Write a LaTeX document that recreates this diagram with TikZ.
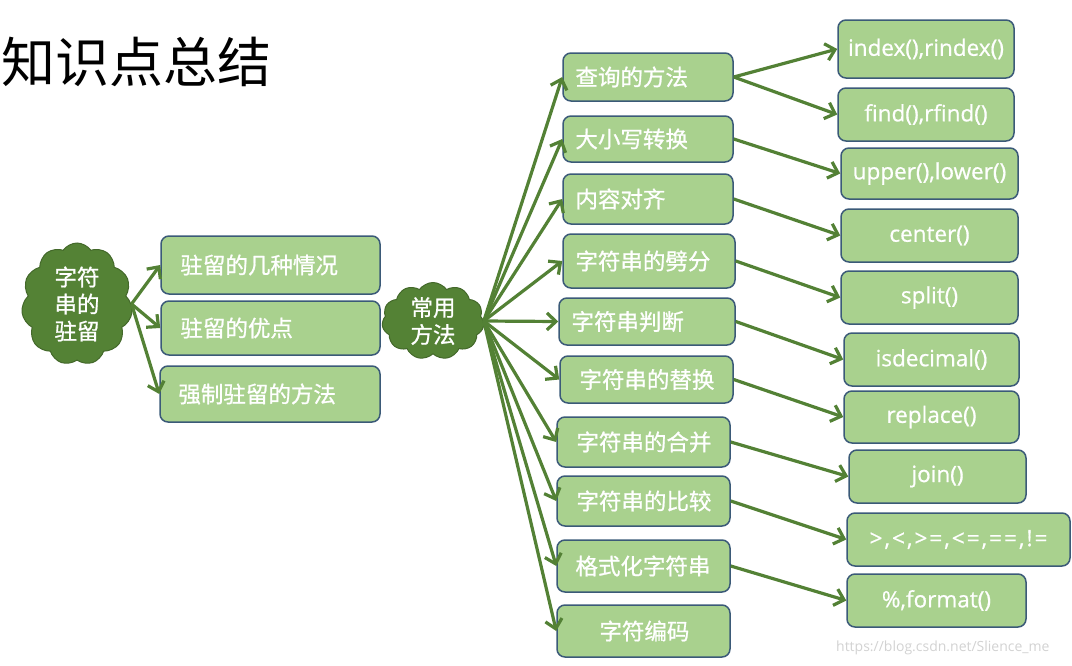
\documentclass[tikz,border=0pt]{standalone}
\usepackage{fontspec}
\setmainfont{Open Sans}
\newfontfamily\enm{Open Sans}[FakeBold=0.7]
\newfontfamily\enmsp{Open Sans}[FakeBold=0.7,LetterSpace=9]
\newfontfamily\cjk{Noto Sans CJK SC}
\newfontfamily\cjkm{Noto Sans CJK SC}[FakeBold=0.9]
\usetikzlibrary{shapes.symbols,arrows.meta,calc}
\definecolor{boxfill}{HTML}{A9D18E}
\definecolor{boxline}{HTML}{3B5A78}
\definecolor{arrgreen}{HTML}{538135}
\definecolor{cloudgreen}{HTML}{548235}
\tikzset{
  box/.style={draw=boxline, fill=boxfill, line width=1.5pt, rounded corners=8pt, inner sep=0pt},
  zh/.style={text=white, inner sep=0pt, font=\cjkm\fontsize{22.5}{27}\selectfont},
  en/.style={text=white, font=\enm\fontsize{22.5}{27}\selectfont},
  arr/.style={draw=arrgreen, line width=3.2pt, -{Straight Barb[length=9pt,width=17pt]}},
  blob/.style={cloud, cloud puffs=11, cloud puff arc=110, cloud ignores aspect, fill=cloudgreen,
    draw=cloudgreen!80!black, line width=1pt, inner sep=0pt, align=center, text=white,
    font=\cjkm\fontsize{22.5}{27}\selectfont},
}
\begin{document}
\begin{tikzpicture}[x=1pt,y=-1pt]
\useasboundingbox (0,0) rectangle (1072,665);
% title
\node[anchor=west, inner sep=0pt, font=\cjk\fontsize{54}{60}\selectfont] (title) at (1,62) {知识点总结};
% clouds
\node[blob, minimum width=111pt, minimum height=122pt] (c1) at (77,304) {字符\\串的\\驻留};
\node[blob, minimum width=102pt, minimum height=77pt] (c2) at (433,321) {常用\\方法};
% column 1
\node[box, minimum width=219pt, minimum height=58pt] (a1) at (270.5,265) {};
\node[zh, anchor=west] (a1t) at ($(a1.west)+(20,0)$) {驻留的几种情况};
\node[box, minimum width=219pt, minimum height=54pt] (a2) at (270.5,328) {};
\node[zh, anchor=west] (a2t) at ($(a2.west)+(20,0)$) {驻留的优点};
\node[box, minimum width=220pt, minimum height=56pt] (a3) at (270,394) {};
\node[zh, anchor=west] (a3t) at ($(a3.west)+(19,0)$) {强制驻留的方法};
% column 2
\node[box, minimum width=170pt, minimum height=48pt] (q) at (648,77) {};
\node[zh, anchor=west] (qt) at ($(q.west)+(13,0)$) {查询的方法};
\node[box, minimum width=170pt, minimum height=46pt] (d) at (648,139) {};
\node[zh, anchor=west] (dt) at ($(d.west)+(13,0)$) {大小写转换};
\node[box, minimum width=170pt, minimum height=50pt] (n) at (648,199) {};
\node[zh, anchor=west] (nt) at ($(n.west)+(13,0)$) {内容对齐};
\node[box, minimum width=172pt, minimum height=54pt] (p) at (649,261) {};
\node[zh, anchor=west] (pt) at ($(p.west)+(13,0)$) {字符串的劈分};
\node[box, minimum width=176pt, minimum height=47pt] (j) at (647,321.5) {};
\node[zh, anchor=west] (jt) at ($(j.west)+(13,0)$) {字符串判断};
\node[box, minimum width=173pt, minimum height=47pt] (r) at (646.5,379.5) {};
\node[zh, anchor=west] (rt) at ($(r.west)+(20,0)$) {字符串的替换};
\node[box, minimum width=173pt, minimum height=50pt] (h) at (643.5,442) {};
\node[zh, anchor=west] (ht) at ($(h.west)+(20,0)$) {字符串的合并};
\node[box, minimum width=173pt, minimum height=50pt] (b) at (643.5,501) {};
\node[zh, anchor=west] (bt) at ($(b.west)+(20,0)$) {字符串的比较};
\node[box, minimum width=173pt, minimum height=52pt] (g) at (643.5,566) {};
\node[zh, anchor=west] (gt) at ($(g.west)+(19,0)$) {格式化字符串};
\node[box, minimum width=173pt, minimum height=52pt] (e) at (643.5,631) {};
\node[zh, anchor=west] (et) at ($(e.west)+(43,0)$) {字符编码};
% column 3
\node[box, en, minimum width=176pt, minimum height=58pt] (i1) at (926,49) {index(),rindex()};
\node[box, en, minimum width=176pt, minimum height=53pt] (i2) at (926,114.5) {find(),rfind()};
\node[box, en, minimum width=177pt, minimum height=51pt] (i3) at (929.5,173.5) {upper(),lower()};
\node[box, en, minimum width=177pt, minimum height=53pt] (i4) at (929.5,235.5) {center()};
\node[box, en, minimum width=177pt, minimum height=53pt] (i5) at (929.5,297.5) {split()};
\node[box, en, minimum width=175pt, minimum height=53pt] (i6) at (931.5,359.5) {isdecimal()};
\node[box, en, minimum width=175pt, minimum height=52pt] (i7) at (931.5,417) {replace()};
\node[box, en, minimum width=177pt, minimum height=53pt] (i8) at (937.5,476.5) {join()};
\node[box, en, font=\enmsp\fontsize{22.5}{27}\selectfont, minimum width=223pt, minimum height=53pt] (i9) at (958.5,539.5) {>,<,>=,<=,==,!=};
\node[box, en, minimum width=179pt, minimum height=53pt] (i10) at (936.5,600.5) {\%,format()};
% watermark
\node[anchor=west, inner sep=0pt, text=gray!35, font=\fontsize{14}{18}\selectfont] (wm) at (836,648) {https://blog.csdn.net/Slience\_me};
% arrows from cloud 1
\foreach \t in {a1,a2,a3} \draw[arr] (c1.east) -- (\t.west);
% arrows from cloud 2
\foreach \t in {q,d,n,p,j,r,h,b,g,e} \draw[arr] (c2.east) -- (\t.west);
% arrows to column 3
\draw[arr] (q.east) -- (i1.west);
\draw[arr] (q.east) -- (i2.west);
\draw[arr] (d.east) -- (i3.west);
\draw[arr] (n.east) -- (i4.west);
\draw[arr] (p.east) -- (i5.west);
\draw[arr] (j.east) -- (i6.west);
\draw[arr] (r.east) -- (i7.west);
\draw[arr] (h.east) -- (i8.west);
\draw[arr] (b.east) -- (i9.west);
\draw[arr] (g.east) -- (i10.west);
\end{tikzpicture}
\end{document}
